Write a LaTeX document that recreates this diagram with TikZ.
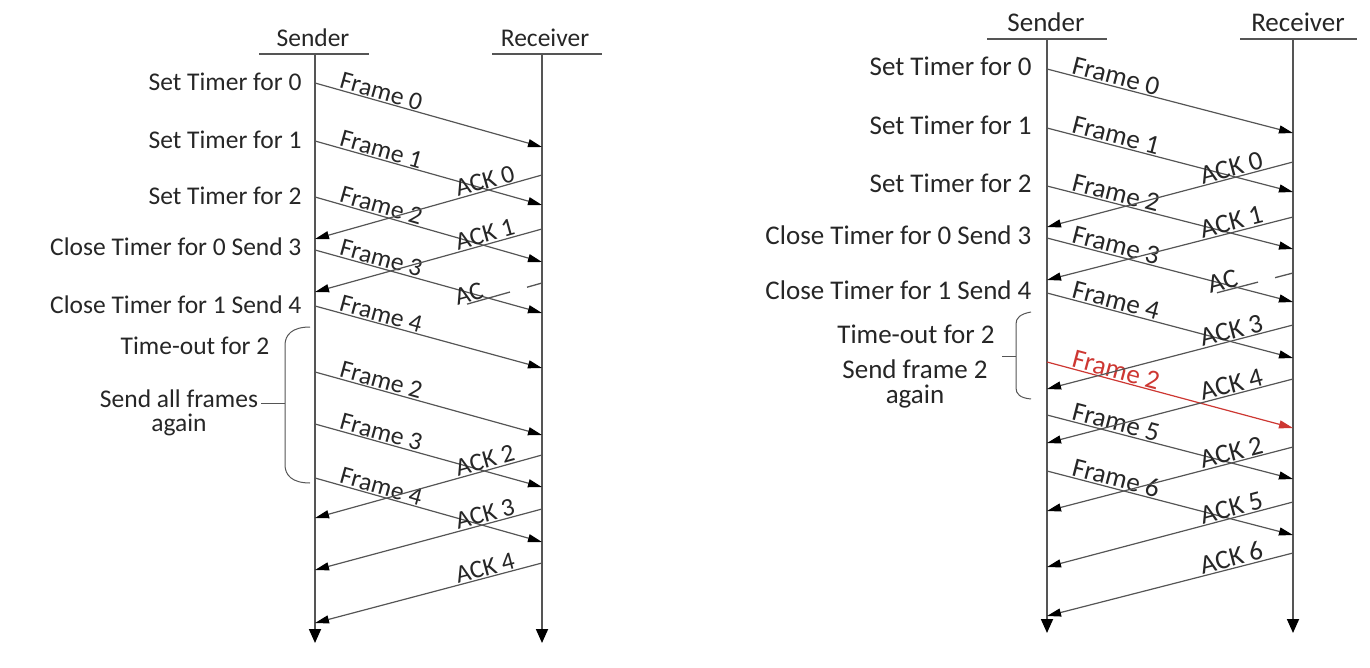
\documentclass[tikz,border=0pt]{standalone}
\usepackage{fontspec}
\setmainfont{Carlito}
\usepackage{tikz}
\usetikzlibrary{arrows.meta,calc,positioning}
\definecolor{grau}{RGB}{85,85,85}
\definecolor{rot}{RGB}{205,55,50}
\tikzset{
  leben/.style={draw=grau, line width=1.8pt, -{Triangle[length=14pt,width=12pt,color=black]}},
  strich/.style={draw=grau, line width=1.3pt},
  pfeil/.style={draw=grau, line width=1.2pt, -{Triangle[length=14pt,width=8pt,color=black]}},
  fbeschr/.style={sloped, above, pos=0.28, inner sep=1pt},
  abeschr/.style={sloped, above, pos=0.24, inner sep=1pt}
}

\begin{document}
\begin{tikzpicture}[x=1pt, y=-1pt, text=black!85]
\useasboundingbox (0,0) rectangle (1370,668);
\pgfmathsetmacro{\senderA}{315}
\pgfmathsetmacro{\empfA}{542}
\pgfmathsetmacro{\senderB}{1047}
\pgfmathsetmacro{\empfB}{1293}

% linke Seite: alle Frames neu senden
\begin{scope}[font=\fontsize{25.5}{25.5}\selectfont]
\coordinate (lst) at (\senderA,54);
\coordinate (lsb) at (\senderA,643);
\coordinate (let) at (\empfA,54);
\coordinate (leb) at (\empfA,643);
\node[anchor=base] (lsender) at (313,47) {Sender};
\node[anchor=base] (lempf) at (545,47) {Receiver};
\draw[strich] ([xshift=-56pt]lst) -- ([xshift=54pt]lst);
\draw[strich] ([xshift=-50pt]let) -- ([xshift=60pt]let);
\draw[leben] (lst) -- (lsb);
\draw[leben] (let) -- (leb);

\foreach \n/\ya/\yb/\t in {0/83/147/0, 1/141/205/1, 2/197/262/2, 3/250/313/3, 4/306/368/4, 5/372/435/2, 6/424/487/3, 7/478/542/4}{
  \coordinate (lfs\n) at (\senderA,\ya);
  \coordinate (lfe\n) at (\empfA,\yb);
  \draw[pfeil] (lfs\n) -- node[fbeschr] {Frame \t} (lfe\n);
}
\foreach \n/\ya/\yb in {0/175/239, 1/229/292, 2/455/518, 3/509/570, 4/563/623}{
  \coordinate (lar\n) at (\empfA,\ya);
  \coordinate (las\n) at (\senderA,\yb);
  \draw[pfeil] (lar\n) -- node[abeschr] {ACK \n} (las\n);
}
% verlorenes ACK
\coordinate (lvr) at (\empfA,283);
\coordinate (lvs) at (\senderA,347);
\draw[strich] (lvr) -- ($(lvr)!0.066!(lvs)$);
\draw[strich] ($(lvr)!0.141!(lvs)$) -- ($(lvr)!0.33!(lvs)$);
\path (lvr) -- node[abeschr, pos=0.31] (lac) {AC} (lvs);

\node[anchor=base east] (lt0) at ([xshift=-10pt,yshift=-7.5pt]lfs0) {Set Timer for 0};
\node[anchor=base east] (lt1) at ([xshift=-10pt,yshift=-7.5pt]lfs1) {Set Timer for 1};
\node[anchor=base east] (lt2) at ([xshift=-10pt,yshift=-7.5pt]lfs2) {Set Timer for 2};
\node[anchor=base east] (lt3) at ([xshift=-10pt,yshift=-5.5pt]lfs3) {Close Timer for 0 Send 3};
\node[anchor=base east] (lt4) at ([xshift=-10pt,yshift=-7.5pt]lfs4) {Close Timer for 1 Send 4};
\node[anchor=base] (ltimeout) at (195,354) {Time-out for 2};
\node[anchor=base] (lsendall) at (179,407) {Send all frames};
\node[anchor=base] (lagain) at ([yshift=-24pt]lsendall.base) {again};

% Klammer
\coordinate (lk1) at (310,327);
\coordinate (lk1b) at (285,345);
\coordinate (lk2b) at (285,465);
\coordinate (lk2) at (310,483);
\coordinate (lkm) at (285,403);
\coordinate (lkt) at (261,403);
\draw[strich, line width=1pt] (lk1) .. controls (292,327) and (285,335) .. (lk1b) -- (lk2b) .. controls (285,475) and (292,483) .. (lk2);
\draw[strich, line width=1pt] (lkm) -- (lkt);
\end{scope}

% rechte Seite: nur Frame 2 neu senden
\begin{scope}[font=\fontsize{27}{27}\selectfont, fbeschr/.append style={pos=0.27}]
\coordinate (rst) at (\senderB,39);
\coordinate (rsb) at (\senderB,633);
\coordinate (ret) at (\empfB,39);
\coordinate (reb) at (\empfB,633);
\node[anchor=base] (rsender) at (1046,32) {Sender};
\node[anchor=base] (rempf) at (1298,32) {Receiver};
\draw[strich] ([xshift=-60pt]rst) -- ([xshift=60pt]rst);
\draw[strich] ([xshift=-53pt]ret) -- ([xshift=64pt]ret);
\draw[leben] (rst) -- (rsb);
\draw[leben] (ret) -- (reb);

\foreach \n/\ya/\yb in {0/69/133, 1/128/192, 2/186/249, 3/238/302, 4/293/358, 5/415/479, 6/471/535}{
  \coordinate (rfs\n) at (\senderB,\ya);
  \coordinate (rfe\n) at (\empfB,\yb);
  \draw[pfeil] (rfs\n) -- node[fbeschr] {Frame \n} (rfe\n);
}
\coordinate (rfsx) at (\senderB,362);
\coordinate (rfex) at (\empfB,428);
\draw[pfeil, draw=rot, -{Triangle[length=14pt,width=8pt,color=rot]}] (rfsx) -- node[fbeschr, text=rot] {Frame 2} (rfex);

\foreach \n/\ya/\yb in {0/162/227, 1/217/280, 3/325/389, 4/379/443, 2/447/511, 5/502/567, 6/553/616}{
  \coordinate (rar\n) at (\empfB,\ya);
  \coordinate (ras\n) at (\senderB,\yb);
  \draw[pfeil] (rar\n) -- node[abeschr] {ACK \n} (ras\n);
}
% verlorenes ACK
\coordinate (rvr) at (\empfB,273);
\coordinate (rvs) at (\senderB,337);
\draw[strich] (rvr) -- ($(rvr)!0.073!(rvs)$);
\draw[strich] ($(rvr)!0.142!(rvs)$) -- ($(rvr)!0.309!(rvs)$);
\path (rvr) -- node[abeschr, pos=0.276] (rac) {AC} (rvs);

\node[anchor=base east] (rt0) at ([xshift=-12pt,yshift=-7pt]rfs0) {Set Timer for 0};
\node[anchor=base east] (rt1) at ([xshift=-12pt,yshift=-7pt]rfs1) {Set Timer for 1};
\node[anchor=base east] (rt2) at ([xshift=-12pt,yshift=-7pt]rfs2) {Set Timer for 2};
\node[anchor=base east] (rt3) at ([xshift=-12pt,yshift=-7pt]rfs3) {Close Timer for 0 Send 3};
\node[anchor=base east] (rt4) at ([xshift=-12pt,yshift=-6pt]rfs4) {Close Timer for 1 Send 4};
\node[anchor=base] (rtimeout) at (916,343) {Time-out for 2};
\node[anchor=base] (rsend) at (915,378) {Send frame 2};
\node[anchor=base] (ragain) at ([yshift=-25pt]rsend.base) {again};

% Klammer
\coordinate (rk1) at (1031,312);
\coordinate (rk1b) at (1016,324);
\coordinate (rk2b) at (1016,388);
\coordinate (rk2) at (1031,399);
\coordinate (rkm) at (1016,356);
\coordinate (rkt) at (1002,356);
\draw[strich, line width=1pt] (rk1) .. controls (1020,314) and (1016,318) .. (rk1b) -- (rk2b) .. controls (1016,394) and (1020,398) .. (rk2);
\draw[strich, line width=1pt] (rkm) -- (rkt);
\end{scope}
\end{tikzpicture}
\end{document}
